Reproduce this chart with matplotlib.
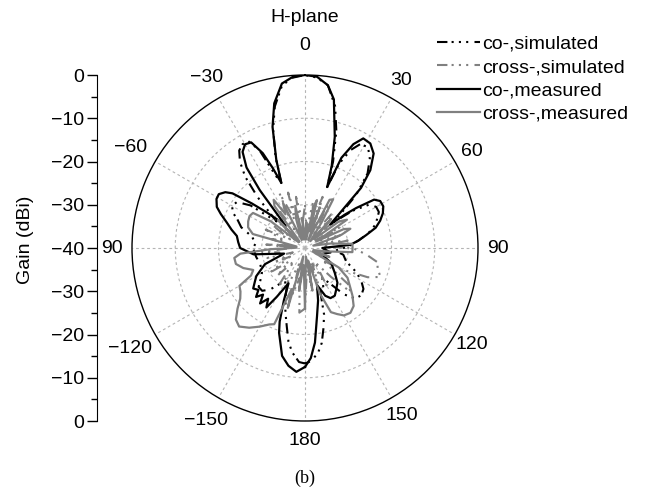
import matplotlib
matplotlib.use("Agg")
import matplotlib.pyplot as plt
import numpy as np

plt.rcParams['font.family'] = ['Liberation Sans', 'DejaVu Sans']

# angles in degrees (0 = broadside, clockwise positive), gain in dBi
co_meas_ang = [-180, -176, -172, -168, -163, -161, -158, -155, -152, -150, -147, -144, -141, -138,
               -135, -132, -128, -124, -120, -112, -105, -97, -90, -85, -80, -76, -72, -68,
               -65, -61, -58, -55, -53, -50, -47, -44, -41, -38, -36, -33, -30, -27, -24, -22,
               -20, -18, -15, -12, -8, -4, 0, 4, 8, 11, 15, 18, 20, 22, 25, 28, 32, 36, 40, 43,
               47, 50, 52, 55, 58, 62, 66, 70, 74, 78, 82, 86, 90, 100, 110, 120, 130, 137,
               143, 148, 153, 157, 162, 166, 170, 174, 177, 180]
co_meas_db = [-12.5, -11.3, -12.5, -14.5, -19.5, -22, -27, -31, -29, -27, -23.6, -25.5, -23.5, -25.5,
              -24, -25.5, -24.8, -26, -27, -30, -35, -28, -25, -24.5, -24, -22.5, -21, -19,
              -17.5, -16.6, -16.5, -17.5, -19, -24, -28, -31, -33, -23, -17, -13.5, -12.3, -12.6, -16, -20,
              -24, -18.5, -11, -5.8, -1.6, -0.3, 0, -0.3, -2, -5, -13.4, -20, -25, -17.5, -13.5, -11.3, -11.5, -13, -16.5, -21,
              -32, -28, -25, -20.5, -19.5, -19.5, -20.3, -21.5, -23, -25.5, -27.5, -29.5, -36, -34, -36, -33, -31, -29,
              -28, -27, -27, -28, -31, -27.5, -24, -18, -14.5, -12.5]

co_sim_ang = [-180, -177, -173, -170, -167, -163, -158, -153, -147, -140, -135, -130, -125, -120,
              -110, -100, -90, -85, -78, -72, -67, -64, -60, -56, -52, -47, -43, -40, -37, -34,
              -31, -28, -25, -22, -20, -18, -15, -12, -8, -4, 0, 4, 8, 12, 15, 18, 20, 22, 25,
              28, 32, 36, 40, 44, 48, 52, 56, 60, 64, 68, 72, 77, 82, 88, 95, 100, 108, 115,
              120, 125, 130, 135, 140, 145, 150, 155, 160, 164, 167, 170, 173, 177, 180]
co_sim_db = [-13.3, -13.6, -15.7, -18, -21.3, -24.5, -28, -31, -30.6, -27.5, -26, -26, -27.5, -28.5,
             -29, -28.5, -28, -28.5, -27.5, -24.5, -23, -21.5, -20.5, -21, -24, -31, -24, -18.5, -15, -12.8,
             -12, -12, -15, -22, -24, -18, -11.5, -6.5, -2, -0.5, 0, -0.5, -2, -6.5, -12, -19, -25, -19, -15,
             -12.8, -12.5, -14.5, -17.5, -23, -31, -26, -22, -21, -21, -22, -23, -25, -27.5, -30, -33, -31, -30, -27,
             -25, -23.5, -23, -23.5, -26, -30, -32, -30, -30, -24, -21, -17.7, -15.5, -13.8, -13.3]

cross_meas_ang = [-180, -176, -172, -168, -164, -162, -158, -155, -150, -145, -140, -136, -132, -128,
                  -124, -120, -117, -113, -108, -103, -98, -95, -92, -88, -84, -80, -75, -70, -65,
                  -60, -56, -52, -48, -44, -40, -36, -33, -30, -26, -22, -17, -13, -9, -5, -1, 3,
                  8, 12, 14, 17, 20, 23, 27, 30, 33, 38, 42, 46, 52, 56, 60, 64, 67, 70, 74, 80,
                  85, 90, 95, 99, 104, 110, 115, 120, 125, 130, 135, 140, 145, 150, 154, 158, 162,
                  166, 170, 174, 180]
cross_meas_db = [-26, -36, -30, -38, -25.6, -30, -21, -20.5, -19, -17.5, -16.3, -17, -19, -21,
                 -22, -22.5, -26, -27, -25, -23.6, -23.5, -25, -32, -38, -34, -38, -27.5, -26, -25.5,
                 -25.2, -25.5, -30, -38, -31, -38, -28, -26.7, -31, -28.4, -38, -33, -30, -38, -33, -38, -34,
                 -38, -30, -28.6, -36, -30, -38, -27.5, -27, -33, -38, -31, -37, -30, -28.3, -37, -30, -28.6, -31, -38, -34,
                 -29, -29, -29, -35, -38, -34, -38, -31, -28, -26.5, -24.5, -22.5, -21.7, -22, -23, -24, -29,
                 -37, -31, -38, -26]

cross_sim_ang = [-180, -175, -170, -165, -160, -155, -150, -145, -140, -135, -130, -125, -120, -115,
                 -110, -105, -100, -95, -90, -85, -80, -75, -70, -65, -60, -55, -50, -45, -40, -35,
                 -30, -25, -20, -17, -13, -10, -5, 0, 5, 10, 15, 19, 24, 28, 33, 38, 43, 48, 53,
                 59, 64, 70, 75, 80, 85, 90, 94, 97, 101, 106, 111, 115, 120, 125, 130, 134, 138,
                 145, 150, 155, 160, 165, 170, 175, 180]
cross_sim_db = [-26, -25, -33, -29, -36, -30, -33, -29, -36, -31, -35, -30, -36, -32,
                -37, -31, -34, -30, -37, -31, -36, -32, -35, -30, -36, -31, -37, -30, -34, -29,
                -35, -26, -33, -26.6, -36, -28, -34, -30, -36, -29, -34, -27.5, -35, -29, -36, -30, -35, -31, -37,
                -30.6, -36, -31, -35, -30, -36, -29, -27, -25.3, -23, -22.5, -21.3, -24, -30, -35, -27, -25.4, -31,
                -36, -30, -36, -31, -37, -30, -35, -26]

angle_ticks = list(range(0, 360, 30))
angle_labels = ['0', '30', '60', '90', '120', '150', '180', '\u2212150', '\u2212120', '90', '\u221260', '\u221230']
label_r = [6.9, 4.6, 4.6, 4.6, 4.6, 4.6, 4.6, 6.0, 6.6, 4.6, 6.6, 5.5]
gain_ticks = [-40, -30, -20, -10, 0, 10, 20, 30, 40]

BLACK = '#000000'
GREY = '#808080'
dashdotdot = (0, (5, 2, 1, 2.5, 1, 2.5, 1, 3))

fig = plt.figure(figsize=(6.5, 4.88), dpi=100)
W, H = 650, 488
cx, cy, R = 305, 248, 173

ax = fig.add_axes([(cx - R) / W, (H - cy - R) / H, 2 * R / W, 2 * R / H], projection='polar')
ax.set_theta_zero_location('N')
ax.set_theta_direction(-1)
ax.set_ylim(-40, 0)

ax.plot(np.deg2rad(co_sim_ang), co_sim_db, color=BLACK, lw=1.5, ls=dashdotdot, label='co-,simulated')
ax.plot(np.deg2rad(cross_sim_ang), cross_sim_db, color=GREY, lw=1.5, ls=dashdotdot, label='cross-,simulated')
ax.plot(np.deg2rad(co_meas_ang), co_meas_db, color=BLACK, lw=1.6, label='co-,measured')
ax.plot(np.deg2rad(cross_meas_ang), cross_meas_db, color=GREY, lw=1.6, label='cross-,measured')

ax.set_xticks(np.deg2rad(angle_ticks))
ax.set_xticklabels([])
ax.set_xticks(np.deg2rad(np.arange(15, 360, 30)), minor=True)
ax.tick_params(axis='x', which='major', direction='in', length=8, width=1, color=BLACK)
ax.tick_params(axis='x', which='minor', direction='in', length=5, width=1, color=BLACK)
ax.set_yticks([-30, -20, -10])
ax.set_yticklabels([])
ax.grid(True, color='#b4b4b4', lw=0.8, ls=(0, (2.5, 2.5)))
ax.spines['polar'].set_linewidth(1.0)
ax.spines['polar'].set_color(BLACK)

for a, lab, r in zip(angle_ticks, angle_labels, label_r):
    ax.text(np.deg2rad(a), r, lab, ha='center', va='center', fontsize=14, clip_on=False)

# linear gain scale on the left
lax = fig.add_axes([97 / W, (H - cy - R) / H, 0.001, 2 * R / H])
lax.patch.set_visible(False)
for s in ['top', 'right', 'bottom']:
    lax.spines[s].set_visible(False)
lax.set_xticks([])
lax.set_ylim(-40, 40)
lax.set_yticks(gain_ticks)
lax.set_yticklabels([f"{abs(v) - 40}".replace('-', '\u2212') for v in gain_ticks], fontsize=14)
lax.set_yticks(np.arange(-35, 40, 10), minor=True)
lax.tick_params(axis='y', which='major', direction='out', length=7, width=1, pad=2)
lax.tick_params(axis='y', which='minor', direction='out', length=4, width=1)

fig.text(25 / W, 1 - 240 / H, 'Gain (dBi)', rotation=90, ha='center', va='center', fontsize=14)
fig.text(cx / W, 1 - 18 / H, 'H-plane', ha='center', va='center', fontsize=14)
fig.text(cx / W, 1 - 478 / H, '(b)', ha='center', va='center', fontsize=13,
         family=['Liberation Serif', 'DejaVu Serif'])

ax.legend(loc='upper left', bbox_to_anchor=(437 / W, 1 - 35 / H), bbox_transform=fig.transFigure,
          frameon=False, fontsize=14, handlelength=2.2, handletextpad=0.1, labelspacing=0.3,
          borderpad=0, borderaxespad=0)

fig.savefig('out.png', dpi=100)
